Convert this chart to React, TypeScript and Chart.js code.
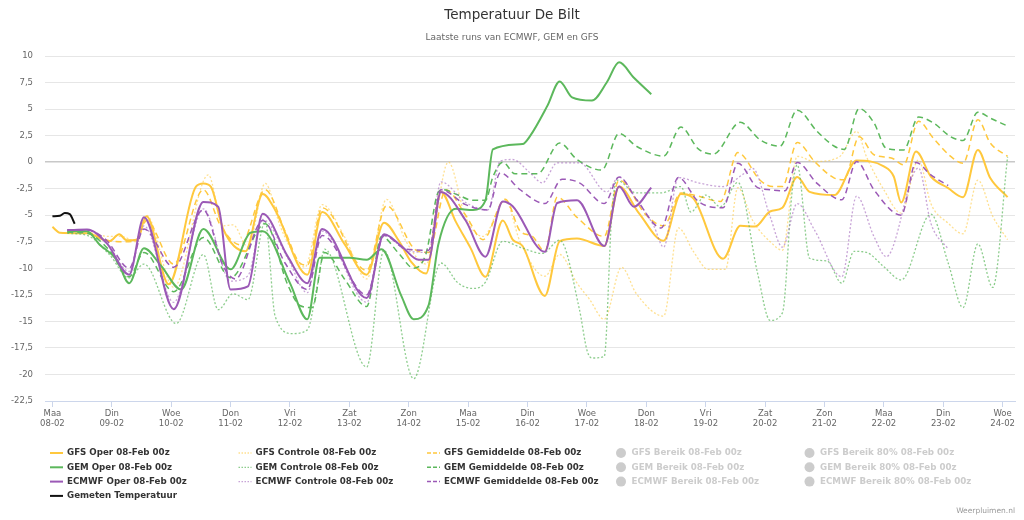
import React, { useEffect, useRef } from 'react';
import { Chart, registerables } from 'chart.js';

Chart.register(...registerables);

const FONT = '"DejaVu Sans", Verdana, sans-serif';

const dayNames = ['Maa', 'Din', 'Woe', 'Don', 'Vri', 'Zat', 'Zon', 'Maa', 'Din', 'Woe', 'Don', 'Vri', 'Zat', 'Zon', 'Maa', 'Din', 'Woe'];
const dayDates = ['08-02', '09-02', '10-02', '11-02', '12-02', '13-02', '14-02', '15-02', '16-02', '17-02', '18-02', '19-02', '20-02', '21-02', '22-02', '23-02', '24-02'];

// [hours since 08-02 00:00, temperature °C]
const gemeten = [[0, -5.1], [3, -5.05], [5, -4.8], [7, -4.9], [9, -5.8]];

const gfsOper = [[0, -6.1], [3, -6.65], [14, -6.7], [23, -7.45], [27, -6.8], [30, -7.35], [34, -7.3], [38, -5.1], [47, -11.5], [58, -2.3], [61, -2.0], [64, -2.3], [69, -6.3], [78, -8.4], [85, -3.0], [90, -4.5], [103, -10.6], [109, -4.7], [118, -7.7], [127, -10.6], [134, -5.7], [140, -7.4], [145, -9.4], [151, -10.5], [157, -2.8], [163, -5.6], [169, -8.1], [175, -10.8], [182, -5.5], [186, -7.3], [190, -7.9], [199, -12.6], [205, -7.45], [212, -7.2], [223, -7.9], [229, -2.3], [237, -4.8], [247, -7.4], [254, -3.0], [259, -3.4], [271, -9.1], [278, -6.0], [284, -6.07], [290, -4.65], [295, -4.3], [301, -1.4], [306, -2.8], [316, -3.1], [325, 0.15], [336, -0.4], [340, -1.35], [343, -3.8], [349, 1.0], [355, -1.35], [362, -2.45], [368, -3.3], [374, 1.15], [379, -1.5], [386, -3.3]];
const gfsControle = [[6, -6.5], [14, -6.6], [23, -7.0], [28, -7.0], [34, -7.5], [38, -5.0], [49, -11.8], [63, -1.2], [69, -6.0], [73, -5.9], [79, -8.0], [86, -2.0], [92, -6.0], [96, -8.0], [102, -9.9], [109, -4.0], [118, -7.0], [127, -11.0], [135, -3.5], [143, -7.5], [151, -9.6], [160, 0.0], [167, -5.2], [174, -7.0], [183, -3.6], [189, -7.5], [199, -10.75], [205, -8.7], [212, -11.4], [217, -12.9], [223, -14.8], [230, -9.9], [236, -12.4], [247, -14.5], [253, -6.2], [259, -8.4], [265, -10.1], [272, -10.1], [277, -2.4], [283, -5.5], [291, -7.7], [295, -8.3], [301, 0.55], [308, 0.06], [318, 0.5], [325, 2.9], [329, 0.5], [336, -2.6], [343, -4.8], [350, 0.2], [355, -3.9], [362, -5.75], [368, -6.75], [374, -1.7], [380, -5.1], [386, -7.3]];
const gfsGemiddelde = [[6, -6.5], [14, -6.6], [23, -7.4], [28, -7.5], [34, -7.4], [38, -5.5], [49, -9.6], [61, -2.6], [68, -6.0], [76, -7.8], [86, -2.6], [94, -6.5], [100, -9.5], [103, -9.7], [109, -4.3], [127, -10.2], [135, -4.1], [147, -8.3], [152, -8.5], [159, -2.6], [167, -5.0], [174, -7.3], [183, -3.5], [189, -6.5], [194, -7.0], [199, -8.4], [204, -3.3], [212, -5.2], [223, -7.0], [229, -1.7], [240, -5.0], [247, -6.0], [254, -2.9], [261, -3.2], [270, -3.7], [277, 0.9], [286, -1.7], [291, -2.3], [295, -2.3], [301, 1.85], [308, 0.06], [316, -1.5], [320, -1.65], [326, 2.4], [332, 0.7], [339, 0.4], [344, -0.25], [350, 3.85], [356, 2.25], [363, 0.55], [368, -0.1], [374, 4.0], [379, 1.8], [386, 0.55]];

const gemOper = [[6, -6.5], [14, -6.5], [19, -7.75], [26, -9.2], [31, -11.4], [37, -8.1], [44, -9.8], [52, -12.0], [61, -6.3], [72, -10.1], [80, -6.65], [85, -6.5], [96, -11.4], [103, -14.8], [108, -9.0], [120, -9.0], [127, -9.2], [133, -8.2], [141, -12.6], [146, -14.8], [152, -13.5], [156, -7.7], [163, -4.4], [170, -4.5], [175, -3.6], [178, 1.2], [190, 1.7], [193, 2.45], [200, 5.3], [205, 7.6], [210, 6.1], [218, 5.8], [224, 7.5], [229, 9.4], [235, 7.95], [242, 6.4]];
const gemControle = [[6, -6.7], [14, -6.9], [23, -8.7], [31, -10.9], [37, -9.6], [50, -15.2], [61, -8.7], [67, -13.9], [73, -12.4], [79, -12.95], [86, -5.6], [90, -14.5], [97, -16.15], [103, -15.8], [107, -11.7], [110, -8.2], [127, -19.3], [134, -8.3], [146, -20.4], [157, -9.5], [164, -11.4], [170, -11.9], [175, -11.3], [182, -7.45], [190, -8.1], [198, -8.6], [205, -7.35], [213, -13.9], [216, -17.7], [218, -18.45], [223, -18.3], [226, -5.1], [228, -1.7], [236, -2.9], [246, -2.9], [254, -2.3], [258, -4.7], [264, -3.1], [270, -4.2], [277, -1.9], [285, -10.5], [290, -14.9], [295, -14.2], [299, -2.6], [301, -0.25], [306, -9.05], [313, -9.3], [319, -11.4], [324, -8.4], [329, -8.5], [336, -9.85], [343, -11.1], [355, -4.9], [362, -9.5], [368, -13.7], [374, -7.7], [380, -11.8], [386, 0.5]];
const gemGemiddelde = [[6, -6.6], [14, -6.7], [23, -8.3], [31, -10.8], [37, -8.5], [49, -12.2], [61, -7.1], [72, -10.9], [86, -5.8], [95, -11.5], [100, -13.5], [105, -13.7], [110, -8.5], [118, -11.0], [127, -13.6], [133, -7.0], [140, -8.6], [146, -10.0], [151, -8.6], [156, -2.8], [158, -2.6], [164, -3.1], [170, -3.6], [175, -3.6], [178, -1.4], [182, 0.0], [187, -1.1], [196, -1.1], [205, 1.8], [212, 0.25], [222, -0.75], [229, 2.7], [236, 1.5], [247, 0.57], [254, 3.3], [261, 1.25], [267, 0.75], [278, 3.75], [286, 2.1], [294, 1.5], [301, 4.9], [309, 2.9], [316, 1.5], [320, 1.2], [326, 5.05], [332, 3.7], [337, 1.3], [344, 1.15], [350, 4.25], [356, 3.7], [363, 2.4], [368, 2.05], [374, 4.7], [379, 4.15], [386, 3.4]];

const ecmwfOper = [[6, -6.4], [14, -6.35], [22, -7.65], [31, -10.6], [37, -5.2], [49, -13.85], [61, -3.75], [67, -4.2], [72, -12.0], [79, -11.7], [85, -4.85], [95, -8.85], [103, -11.4], [109, -6.3], [127, -12.8], [134, -6.8], [141, -7.9], [148, -9.2], [152, -9.2], [157, -2.8], [167, -5.5], [175, -8.9], [182, -3.7], [186, -4.15], [199, -8.45], [204, -3.85], [212, -3.6], [223, -7.9], [229, -2.3], [235, -4.2], [242, -2.4]];
const ecmwfControle = [[6, -6.4], [14, -6.4], [22, -7.6], [31, -10.3], [37, -6.0], [49, -13.2], [61, -4.4], [72, -11.2], [79, -10.7], [85, -5.4], [95, -9.0], [103, -12.3], [109, -6.5], [127, -13.2], [134, -6.8], [143, -8.3], [152, -8.5], [157, -1.85], [167, -3.8], [176, -4.5], [181, 0.1], [186, 0.25], [193, -1.0], [198, -1.95], [204, -0.06], [213, -0.06], [224, -2.8], [229, -1.4], [236, -3.5], [243, -6.0], [247, -8.0], [253, -1.45], [261, -1.95], [271, -2.3], [279, -1.15], [283, -0.6], [290, -5.1], [295, -8.0], [301, -3.9], [308, -6.4], [319, -10.8], [325, -3.2], [332, -7.0], [337, -8.9], [350, -0.55], [355, -5.75], [362, -8.2]];
const ecmwfGemiddelde = [[6, -6.4], [14, -6.4], [22, -7.4], [31, -10.0], [37, -6.3], [49, -9.9], [61, -4.5], [69, -9.8], [74, -11.0], [85, -5.5], [94, -9.5], [103, -12.0], [109, -6.9], [127, -12.5], [134, -6.9], [143, -8.2], [152, -8.3], [157, -2.6], [167, -4.0], [176, -4.5], [181, -1.0], [189, -2.6], [199, -3.9], [206, -1.6], [213, -1.95], [223, -3.9], [229, -1.4], [236, -3.5], [246, -6.2], [253, -1.45], [261, -3.7], [271, -4.3], [277, -0.1], [285, -2.4], [290, -2.6], [296, -2.7], [301, -0.03], [309, -2.0], [319, -3.55], [325, 0.06], [332, -2.6], [343, -5.0], [349, -0.03], [355, -1.2], [362, -2.2]];

const GFS = '#ffc83d';
const GFS_LIGHT = 'rgba(255, 204, 70, 0.6)';
const GEM = '#5cb85c';
const GEM_LIGHT = 'rgba(92, 184, 92, 0.7)';
const ECM = '#9b59b6';
const ECM_LIGHT = 'rgba(155, 89, 182, 0.55)';

type S = { label: string; data: number[][]; color: string; width: number; dash: number[]; kind: string; hidden?: boolean };

const seriesList: S[] = [
  { label: 'GFS Oper 08-Feb 00z', data: gfsOper, color: GFS, width: 2, dash: [], kind: 'line' },
  { label: 'GFS Controle 08-Feb 00z', data: gfsControle, color: GFS_LIGHT, width: 1.3, dash: [2, 2], kind: 'line' },
  { label: 'GFS Gemiddelde 08-Feb 00z', data: gfsGemiddelde, color: GFS, width: 1.5, dash: [6, 4], kind: 'line' },
  { label: 'GFS Bereik 08-Feb 00z', data: [], color: '#cccccc', width: 0, dash: [], kind: 'range', hidden: true },
  { label: 'GFS Bereik 80% 08-Feb 00z', data: [], color: '#cccccc', width: 0, dash: [], kind: 'range', hidden: true },
  { label: 'GEM Oper 08-Feb 00z', data: gemOper, color: GEM, width: 2, dash: [], kind: 'line' },
  { label: 'GEM Controle 08-Feb 00z', data: gemControle, color: GEM_LIGHT, width: 1.3, dash: [2, 2], kind: 'line' },
  { label: 'GEM Gemiddelde 08-Feb 00z', data: gemGemiddelde, color: GEM, width: 1.5, dash: [6, 4], kind: 'line' },
  { label: 'GEM Bereik 08-Feb 00z', data: [], color: '#cccccc', width: 0, dash: [], kind: 'range', hidden: true },
  { label: 'GEM Bereik 80% 08-Feb 00z', data: [], color: '#cccccc', width: 0, dash: [], kind: 'range', hidden: true },
  { label: 'ECMWF Oper 08-Feb 00z', data: ecmwfOper, color: ECM, width: 2, dash: [], kind: 'line' },
  { label: 'ECMWF Controle 08-Feb 00z', data: ecmwfControle, color: ECM_LIGHT, width: 1.3, dash: [2, 2], kind: 'line' },
  { label: 'ECMWF Gemiddelde 08-Feb 00z', data: ecmwfGemiddelde, color: ECM, width: 1.5, dash: [6, 4], kind: 'line' },
  { label: 'ECMWF Bereik 08-Feb 00z', data: [], color: '#cccccc', width: 0, dash: [], kind: 'range', hidden: true },
  { label: 'ECMWF Bereik 80% 08-Feb 00z', data: [], color: '#cccccc', width: 0, dash: [], kind: 'range', hidden: true },
  { label: 'Gemeten Temperatuur', data: gemeten, color: '#111111', width: 2, dash: [], kind: 'line' },
];

const decorations = {
  id: 'decorations',
  afterDraw(chart: any) {
    const ctx = chart.ctx;
    ctx.save();
    ctx.textAlign = 'center';
    ctx.textBaseline = 'middle';
    ctx.fillStyle = '#333333';
    ctx.font = `13.5px ${FONT}`;
    ctx.fillText('Temperatuur De Bilt', 512, 15);
    ctx.fillStyle = '#666666';
    ctx.font = `9px ${FONT}`;
    ctx.fillText('Laatste runs van ECMWF, GEM en GFS', 512, 38);

    // legend
    const colX = [50, 238.5, 427, 615.5, 804];
    const rowY = [453, 467.3, 481.6, 495.9];
    ctx.font = `bold 8.7px ${FONT}`;
    ctx.textAlign = 'left';
    seriesList.forEach((s, i) => {
      const col = i < 15 ? i % 5 : 0;
      const row = i < 15 ? Math.floor(i / 5) : 3;
      const x = colX[col];
      const y = rowY[row];
      if (s.kind === 'range') {
        ctx.fillStyle = '#cccccc';
        ctx.beginPath();
        ctx.arc(x + 5.5, y, 5, 0, Math.PI * 2);
        ctx.fill();
        ctx.fillText(s.label, x + 16, y);
      } else {
        ctx.strokeStyle = s.color;
        ctx.lineWidth = s.width;
        ctx.setLineDash(s.dash.length ? (s.dash[0] > 3 ? [4, 2] : [1.5, 1.5]) : []);
        ctx.beginPath();
        ctx.moveTo(x, y);
        ctx.lineTo(x + 13, y);
        ctx.stroke();
        ctx.setLineDash([]);
        ctx.fillStyle = '#333333';
        ctx.fillText(s.label, x + 17, y);
      }
    });

    ctx.textAlign = 'right';
    ctx.fillStyle = '#999999';
    ctx.font = `7.5px ${FONT}`;
    ctx.fillText('Weerpluimen.nl', 1015, 511);
    ctx.restore();
  },
};

export default function App() {
  const canvasRef = useRef<HTMLCanvasElement | null>(null);

  useEffect(() => {
    const canvas = canvasRef.current;
    if (!canvas) return;
    const datasets = seriesList.map((s, i) => ({
      label: s.label,
      data: s.data.map(([x, y]) => ({ x, y })),
      borderColor: s.color,
      backgroundColor: s.color,
      borderWidth: s.width,
      borderDash: s.dash,
      pointRadius: 0,
      fill: false,
      cubicInterpolationMode: 'monotone' as const,
      hidden: !!s.hidden,
      order: -i,
    }));

    const chart = new Chart(canvas, {
      type: 'line',
      data: { datasets },
      plugins: [decorations],
      options: {
        animation: false,
        responsive: false,
        devicePixelRatio: 1,
        layout: { padding: { top: 56, right: 9, bottom: 0, left: 0 } },
        plugins: {
          legend: { display: false },
          title: { display: false },
          tooltip: { enabled: false },
        },
        scales: {
          x: {
            type: 'linear',
            min: -3,
            max: 389,
            afterBuildTicks: (scale: any) => {
              scale.ticks = dayDates.map((_, i) => ({ value: i * 24 }));
            },
            afterFit: (scale: any) => {
              scale.height = 119;
            },
            grid: { drawOnChartArea: false, drawTicks: true, tickLength: 6, color: '#ccd6eb' },
            border: { display: true, color: '#ccd6eb' },
            ticks: {
              autoSkip: false,
              maxRotation: 0,
              padding: 1,
              color: '#666666',
              font: { family: FONT, size: 8.5, lineHeight: 1.25 },
              callback: (v: any) => {
                const i = Math.round(Number(v) / 24);
                return [dayNames[i], dayDates[i]];
              },
            },
          },
          y: {
            min: -22.5,
            max: 10,
            afterFit: (scale: any) => {
              scale.width = 45;
            },
            grid: {
              drawTicks: false,
              color: (c: any) => (c.tick && c.tick.value === 0 ? '#c8c8c8' : '#e6e6e6'),
              lineWidth: (c: any) => (c.tick && c.tick.value === 0 ? 1.6 : 1),
            },
            border: { display: false },
            ticks: {
              stepSize: 2.5,
              padding: 12,
              color: '#666666',
              font: { family: FONT, size: 8.5 },
              callback: (v: any) => String(v).replace('.', ','),
            },
          },
        },
      },
    });
    return () => chart.destroy();
  }, []);

  return (
    <div style={{ position: 'absolute', left: 0, top: 0, width: 1024, height: 520, background: '#ffffff' }}>
      <canvas ref={canvasRef} width={1024} height={520} />
    </div>
  );
}
